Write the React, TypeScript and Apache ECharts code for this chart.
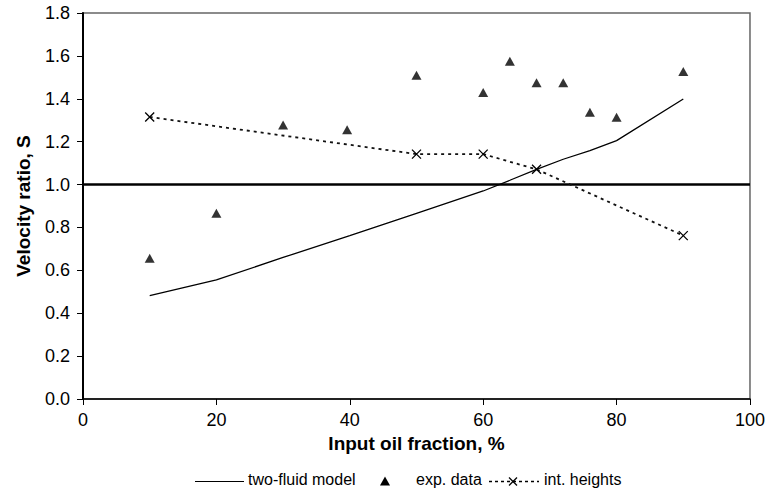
import React, { useEffect, useRef } from "react";
import * as echarts from "echarts";

const modelX = [10, 20, 30, 40, 50, 60, 64, 68, 72, 76, 80, 90];
const modelY = [0.482, 0.555, 0.66, 0.762, 0.866, 0.97, 1.02, 1.071, 1.118, 1.158, 1.205, 1.399];

const expX = [10, 20, 30, 39.6, 50, 60, 64, 68, 72, 76, 80, 90];
const expY = [0.656, 0.866, 1.278, 1.255, 1.51, 1.429, 1.575, 1.475, 1.475, 1.337, 1.314, 1.527];

const heightX = [10, 50, 60, 68, 90];
const heightY = [1.315, 1.142, 1.142, 1.071, 0.762];

const refLine = 1.0;

const xTicks = { min: 0, max: 100, interval: 20 };
const yTicks = { min: 0, max: 1.8, interval: 0.2 };

const legendNames = ["two-fluid model", "exp. data", "int. heights"];

const FONT = "'Liberation Sans', Arial, sans-serif";

export default function App() {
  const ref = useRef<HTMLDivElement>(null);
  useEffect(() => {
    document.body.style.margin = "0";
    if (!ref.current) return;
    const chart = echarts.init(ref.current, null, { renderer: "svg" });
    const zip = (xs: number[], ys: number[]) => xs.map((x, i) => [x, ys[i]]);
    const ly = 481.5;
    const legendText = (name: string, x: number) => ({
      type: "text",
      left: x,
      top: ly - 10,
      style: { text: name, fontFamily: FONT, fontSize: 16, fill: "#000" },
    });
    chart.setOption({
      animation: false,
      backgroundColor: "#fff",
      textStyle: { fontFamily: FONT },
      grid: {
        left: 83,
        right: 18,
        top: 13,
        bottom: 89,
        show: true,
        borderColor: "#666",
        borderWidth: 1.5,
        backgroundColor: "transparent",
      },
      graphic: [
        { type: "line", shape: { x1: 195, y1: ly, x2: 244, y2: ly }, style: { stroke: "#000", lineWidth: 1.2 } },
        legendText(legendNames[0], 248),
        {
          type: "polygon",
          shape: { points: [[380, ly + 4], [390, ly + 4], [385, ly - 5]] },
          style: { fill: "#000" },
        },
        legendText(legendNames[1], 416),
        {
          type: "line",
          shape: { x1: 489, y1: ly, x2: 539, y2: ly },
          style: { stroke: "#000", lineWidth: 1.5, lineDash: [3, 3] },
        },
        {
          type: "line",
          shape: { x1: 509, y1: ly - 4, x2: 517, y2: ly + 4 },
          style: { stroke: "#000", lineWidth: 1.2 },
        },
        {
          type: "line",
          shape: { x1: 517, y1: ly - 4, x2: 509, y2: ly + 4 },
          style: { stroke: "#000", lineWidth: 1.2 },
        },
        legendText(legendNames[2], 544),
      ],
      xAxis: {
        type: "value",
        min: xTicks.min,
        max: xTicks.max,
        interval: xTicks.interval,
        name: "Input oil fraction, %",
        nameLocation: "middle",
        nameGap: 30,
        nameTextStyle: { fontFamily: FONT, fontSize: 19, fontWeight: "bold", color: "#000" },
        axisLine: { onZero: false, lineStyle: { color: "#000", width: 1.5 } },
        axisTick: { show: true, length: 6, inside: false, lineStyle: { color: "#000", width: 1 } },
        axisLabel: { fontFamily: FONT, fontSize: 18, color: "#000", margin: 12 },
        splitLine: { show: false },
      },
      yAxis: {
        type: "value",
        min: yTicks.min,
        max: yTicks.max,
        interval: yTicks.interval,
        name: "Velocity ratio, S",
        nameLocation: "middle",
        nameGap: 50,
        nameTextStyle: { fontFamily: FONT, fontSize: 19, fontWeight: "bold", color: "#000" },
        axisLine: { show: true, lineStyle: { color: "#000", width: 2 } },
        axisTick: { show: true, length: 6, inside: false, lineStyle: { color: "#000", width: 1 } },
        axisLabel: {
          fontFamily: FONT,
          fontSize: 18,
          color: "#000",
          margin: 13,
          formatter: (v: number) => v.toFixed(1),
        },
        splitLine: { show: false },
      },
      series: [
        {
          name: legendNames[0],
          type: "line",
          data: zip(modelX, modelY),
          symbol: "none",
          lineStyle: { color: "#000", width: 1.3 },
          itemStyle: { color: "#000" },
          markLine: {
            silent: true,
            symbol: "none",
            label: { show: false },
            lineStyle: { color: "#000", width: 2.5, type: "solid" },
            data: [{ yAxis: refLine }],
          },
          z: 3,
        },
        {
          name: legendNames[1],
          type: "scatter",
          data: zip(expX, expY),
          symbol: "triangle",
          symbolSize: [10, 9],
          itemStyle: { color: "#000" },
          z: 4,
        },
        {
          name: legendNames[2],
          type: "line",
          data: zip(heightX, heightY),
          symbol: "path://M0,0L10,10M10,0L0,10",
          symbolSize: 9,
          showSymbol: true,
          lineStyle: { color: "#111", width: 1.8, type: [3, 4] },
          itemStyle: { color: "none", borderColor: "#000", borderWidth: 1.3 },
          z: 5,
        },
      ],
    });
    return () => chart.dispose();
  }, []);
  return <div ref={ref} style={{ width: 768, height: 488 }} />;
}
